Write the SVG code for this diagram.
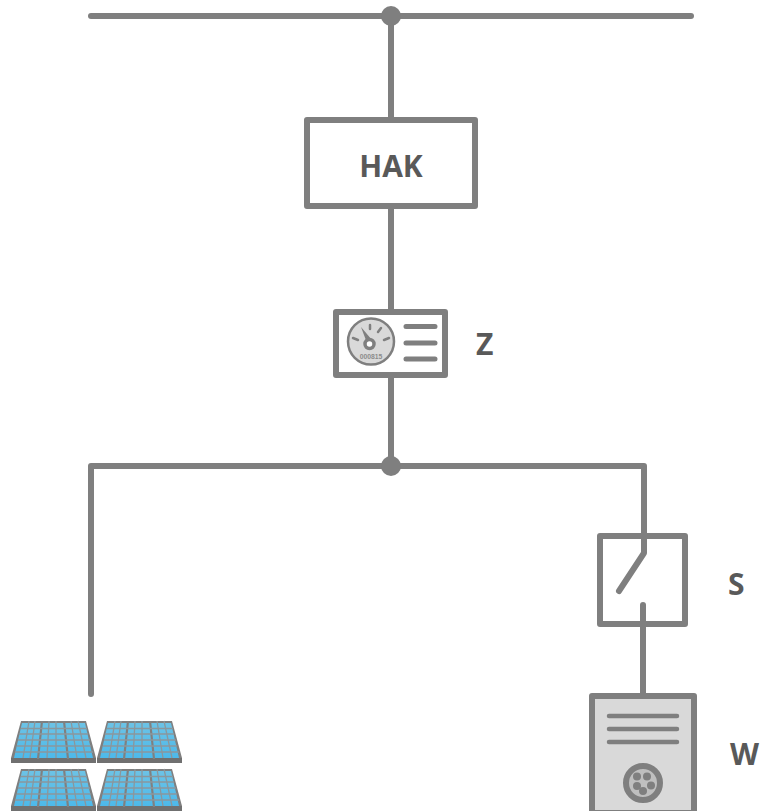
<svg xmlns="http://www.w3.org/2000/svg" width="762" height="811" viewBox="0 0 762 811">
<style>
.w{fill:none;stroke:#7f7f7f;stroke-width:6;stroke-linecap:round;stroke-linejoin:round}
.box{fill:#fff;stroke:#7f7f7f;stroke-width:6;stroke-linejoin:round}
.dot{fill:#7f7f7f}
.t{font-family:"Open Sans","Liberation Sans",sans-serif;font-weight:700;font-size:30px;fill:#595959}
.thin{fill:none;stroke:#8a979d;stroke-width:1.300}
.thick{fill:none;stroke:#808080;stroke-width:2.200}
</style>
<defs>
<linearGradient id="sky" x1="0" y1="0" x2="0" y2="1"><stop offset="0" stop-color="#6cc3e6"/><stop offset="1" stop-color="#4db9ea"/></linearGradient>
<g id="panel">
<path d="M10 0H75L85 37V42H0V37Z" fill="#7f7f7f"/>
<path d="M11 2H74L82 37H3Z" fill="url(#sky)"/>
<path d="M0 37H85V42H0Z" fill="#707070"/>
<path class="thick" d="M31 0L27 38M53 0L57 38"/>
<path class="thin" d="M18 0L12 37M24 0L19 37M38 0L36 37M45 0L45 37M60 0L66 37M67 0L75 37"/>
<path class="thin" d="M10 7.500H76M8 13H77M7 19H79M6 25H80M4 31H82"/>
</g>
</defs>
<g id="connectors">
<path class="w" d="M91 16H691"/>
<path class="w" d="M391 16V120"/>
<path class="w" d="M391 206V311"/>
<path class="w" d="M391 375V466"/>
<path class="w" d="M91 694V466H644V553L619 591"/>
<path class="w" d="M643 605V694"/>
</g>
<g id="junction-top"><circle class="dot" cx="391" cy="16" r="10"/></g>
<g id="junction-mid"><circle class="dot" cx="391" cy="466" r="10"/></g>
<g id="hak"><rect class="box" x="307" y="120" width="168" height="86"/><text class="t" x="391" y="177" text-anchor="middle">HAK</text></g>
<g id="zaehler">
<rect class="box" x="336" y="312" width="109" height="63"/>
<circle cx="371" cy="341.500" r="23" fill="#d9d9d9" stroke="#7f7f7f" stroke-width="2.500"/>
<path d="M370 325V329M353 338L358 340M389 338L384 340M381 328L378 332" fill="none" stroke="#7f7f7f" stroke-width="2.500" stroke-linecap="round"/>
<path d="M361 327L367 343L372 340Z" fill="#7f7f7f"/>
<circle cx="369.500" cy="344" r="4.500" fill="#fff" stroke="#7f7f7f" stroke-width="3.500"/>
<text x="371" y="358.500" text-anchor="middle" font-family="Liberation Sans,sans-serif" font-weight="700" font-size="6.800" fill="#8c8c8c">000815</text>
<path class="w" d="M406 326.500H435M406 343H435M406 359H435" style="stroke-width:5"/>
<text class="t" x="476" y="355">Z</text>
</g>
<g id="schalter">
<rect class="box" x="600" y="536" width="85" height="88" style="fill:none"/>
<text class="t" x="728" y="595">S</text>
</g>
<g id="wallbox">
<rect x="592" y="696" width="102" height="117" fill="#d9d9d9" stroke="#7f7f7f" stroke-width="6" stroke-linejoin="round"/>
<path class="w" d="M609 716H677M609 729H677M609 742H677" style="stroke-width:4.500"/>
<circle cx="643" cy="783" r="17" fill="#bfbfbf" stroke="#7f7f7f" stroke-width="6"/>
<circle cx="637" cy="776.500" r="4" fill="#7f7f7f"/><circle cx="647" cy="776.500" r="4" fill="#7f7f7f"/>
<circle cx="651" cy="785.500" r="4" fill="#7f7f7f"/><circle cx="637" cy="786" r="4" fill="#7f7f7f"/><circle cx="643" cy="791" r="4" fill="#7f7f7f"/>
<text class="t" x="730" y="765">W</text>
</g>
<g id="pv">
<use href="#panel" x="11" y="721"/>
<use href="#panel" x="97" y="721"/>
<use href="#panel" x="11" y="769"/>
<use href="#panel" x="97" y="769"/>
</g>
</svg>
